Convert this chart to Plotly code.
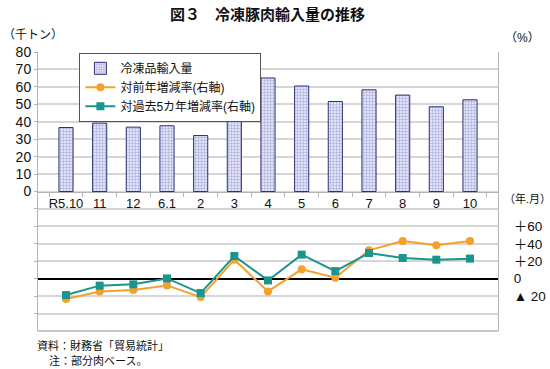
import plotly.graph_objects as go

months = ["R5.10", "11", "12", "6.1", "2", "3", "4", "5", "6", "7", "8", "9", "10"]
frozen_imports = [36.7, 39.2, 36.9, 37.7, 32.1, 40.7, 65.1, 60.5, 51.6, 58.3, 55.3, 48.6, 52.6]
yoy_change = [-23.4, -14.6, -13.1, -7.7, -21.1, 21.8, -14.6, 10.7, 1.1, 32.5, 43.2, 38.3, 43.2]
vs5yr_change = [-18.8, -8.0, -6.5, 0.3, -16.5, 26.0, -2.0, 27.6, 8.7, 29.4, 23.7, 21.8, 23.0]

left_ticks = list(range(-70, 90, 10))
left_labels = [str(v) if v >= 0 else "" for v in left_ticks]
right_ticks = [-20, 0, 20, 40, 60]
right_labels = ["▲ 20", "0", "＋20", "＋40", "＋60"]

FONT = "Arial, 'Liberation Sans', 'Noto Sans CJK JP', sans-serif"
ORANGE = "#F2A22C"
TEAL = "#1A958D"
AXIS = "#B4B4B4"
ML, MR, MT, MB = 38, 52, 52, 38

fig = go.Figure()
fig.add_trace(go.Bar(
    x=months, y=frozen_imports, name="冷凍品輸入量",
    marker=dict(color="#E0E2F6",
                line=dict(color="#2E3272", width=1),
                pattern=dict(shape="+", fgcolor="#7076C4", size=3, solidity=0.35)),
    width=0.42,
))
fig.add_trace(go.Scatter(
    x=months, y=yoy_change, name="対前年増減率(右軸)", yaxis="y2",
    mode="lines+markers", line=dict(color=ORANGE, width=2),
    marker=dict(symbol="circle", size=8, color=ORANGE),
))
fig.add_trace(go.Scatter(
    x=months, y=vs5yr_change, name="対過去5カ年増減率(右軸)", yaxis="y2",
    mode="lines+markers", line=dict(color=TEAL, width=2),
    marker=dict(symbol="square", size=8, color=TEAL),
))

fig.update_layout(
    width=550, height=369,
    margin=dict(l=ML, r=MR, t=MT, b=MB, autoexpand=False),
    paper_bgcolor="white", plot_bgcolor="white",
    font=dict(family=FONT, size=13, color="#111"),
    showlegend=True,
    legend=dict(x=0.09, y=0.997, xanchor="left", yanchor="top",
                bordercolor="#555", borderwidth=1, bgcolor="white",
                font=dict(size=12), tracegroupgap=0, itemwidth=30),
    xaxis=dict(anchor="free", position=0.5, showline=True, linecolor=AXIS,
               ticks="outside", tickson="boundaries", ticklen=4, tickcolor=AXIS,
               showgrid=False, tickfont=dict(size=13), tickangle=0, automargin=False),
    yaxis=dict(range=[-80, 80], tickvals=left_ticks, ticktext=left_labels,
               showgrid=True, gridcolor="#D6D6D6", gridwidth=1.5,
               showline=True, linecolor=AXIS, ticks="outside", ticklen=3,
               tickcolor=AXIS, zeroline=False, tickfont=dict(size=14), automargin=False),
    yaxis2=dict(overlaying="y", side="right", range=[-60, 260],
                tickvals=right_ticks, ticktext=right_labels, showgrid=False,
                zeroline=True, zerolinecolor="black", zerolinewidth=2,
                showline=True, linecolor=AXIS, ticks="", ticklabelstandoff=12,
                tickfont=dict(size=13.5), automargin=False),
    shapes=[dict(type="line", xref="paper", yref="paper", x0=0, x1=1, y0=0, y1=0,
                 line=dict(color=AXIS, width=1.5))],
)


def px(xp, yp, text, size, anchor="left"):
    pw, ph = 550 - ML - MR, 369 - MT - MB
    return dict(text=text, x=(xp - ML) / pw, y=(369 - MB - yp) / ph, xref="paper", yref="paper",
                showarrow=False, xanchor=anchor, yanchor="middle", font=dict(size=size))


fig.add_annotation(px(267, 14, "<b>図３　冷凍豚肉輸入量の推移</b>", 15, "center"))
fig.add_annotation(px(1, 35, "（千トン）", 12))
fig.add_annotation(px(503, 38, "（%）", 12))
fig.add_annotation(px(502, 198, "（年.月）", 11))
fig.add_annotation(px(35, 345, "資料：財務省「貿易統計」", 11))
fig.add_annotation(px(47, 361, "注：部分肉ベース。", 11))

fig.write_html("out.html", config={"displayModeBar": False},
               post_script="document.body.style.margin='0';document.body.style.overflow='hidden';")
